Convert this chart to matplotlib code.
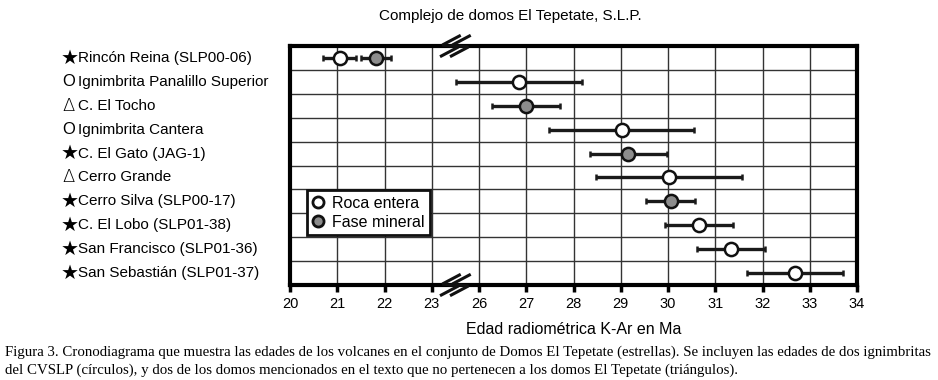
import numpy as np
import matplotlib
matplotlib.use("Agg")
import matplotlib.pyplot as plt
from matplotlib.lines import Line2D
from matplotlib.transforms import IdentityTransform

plt.rcParams['font.family'] = ['Liberation Sans', 'DejaVu Sans']

# datos (edad K-Ar en Ma)
nombres = ["Rincón Reina (SLP00-06)", "Ignimbrita Panalillo Superior", "C. El Tocho",
           "Ignimbrita Cantera", "C. El Gato (JAG-1)", "Cerro Grande",
           "Cerro Silva (SLP00-17)", "C. El Lobo (SLP01-38)", "San Francisco (SLP01-36)",
           "San Sebastián (SLP01-37)"]
simbolos = ["★", "O", "Δ", "O", "★", "Δ", "★", "★", "★", "★"]

# roca entera (fila, edad, error)
roca_fila = [0, 1, 3, 5, 7, 8, 9]
roca_edad = [21.05, 26.85, 29.02, 30.02, 30.66, 31.33, 32.69]
roca_err = [0.35, 1.33, 1.54, 1.54, 0.72, 0.72, 1.01]

# fase mineral
min_fila = [0, 2, 4, 6]
min_edad = [21.82, 27.0, 29.16, 30.06]
min_err = [0.32, 0.72, 0.82, 0.52]

ticks = [20, 21, 22, 23, 26, 27, 28, 29, 30, 31, 32, 33, 34]


def pos(v):
    # eje con corte entre 23 y 26
    v = np.asarray(v, dtype=float)
    return np.where(v <= 23, v - 20, v - 22)


fig = plt.figure(figsize=(9.38, 3.80), dpi=100)
ax = fig.add_axes([290/938, 1-285/380, 567/938, 239/380])

ax.set_xlim(0, 12)
ax.set_ylim(9.5, -0.5)

for k in range(1, 12):
    ax.axvline(k, color='#333333', lw=1, zorder=1)
for k in range(10):
    ax.axhline(k + 0.5, color='#333333', lw=1, zorder=1)

lo = pos(np.array(roca_edad) - np.array(roca_err))
hi = pos(np.array(roca_edad) + np.array(roca_err))
ax.errorbar(pos(roca_edad), roca_fila, xerr=[pos(roca_edad) - lo, hi - pos(roca_edad)],
            fmt='o', ms=9.5, mfc='white', mec='#111111', mew=1.8, ecolor='#1a1a1a',
            elinewidth=2.4, capsize=2.5, capthick=2.2, zorder=3)
lo = pos(np.array(min_edad) - np.array(min_err))
hi = pos(np.array(min_edad) + np.array(min_err))
ax.errorbar(pos(min_edad), min_fila, xerr=[pos(min_edad) - lo, hi - pos(min_edad)],
            fmt='o', ms=9.5, mfc='#8c8c8c', mec='#111111', mew=1.8, ecolor='#1a1a1a',
            elinewidth=2.4, capsize=2.5, capthick=2.2, zorder=3)

for s in ax.spines.values():
    s.set_linewidth(3)
ax.set_xticks(pos(ticks))
ax.set_xticklabels([str(t) for t in ticks], fontsize=10.5)
ax.tick_params(axis='x', direction='out', length=5, width=2.5, pad=4)
ax.set_yticks([])

# símbolo de corte (en píxeles alrededor del punto 23-26)
zig = np.array([(9, 10), (-8, 1), (8, -1), (-9, -10)], dtype=float)
for yv in [-0.5, 9.5]:
    cx, cy = ax.transData.transform((3.5, yv))
    for dx in (-5, 5):
        fig.add_artist(Line2D(cx + dx + zig[:, 0], cy + zig[:, 1], color='#111111',
                              lw=2.2, transform=IdentityTransform(), zorder=6,
                              solid_joinstyle='miter'))

# etiquetas
for i, (sim, nom) in enumerate(zip(simbolos, nombres)):
    if sim == '★':
        ax.text(-229/567 * 12, i, sim, fontsize=14.5, va='center', ha='left',
                family=['DejaVu Sans'])
    elif sim == 'Δ':
        ax.text(-228/567 * 12, i, sim, fontsize=13, va='center', ha='left',
                family=['DejaVu Sans'], fontweight='light')
    else:
        ax.text(-228/567 * 12, i, sim, fontsize=12, va='center', ha='left')
    ax.text(-212/567 * 12, i, nom, fontsize=11, va='center', ha='left')

proxies = [Line2D([], [], ls='none', marker='o', ms=8, mfc='white', mec='#111111', mew=2),
           Line2D([], [], ls='none', marker='o', ms=8, mfc='#8c8c8c', mec='#111111', mew=2)]
leg = ax.legend(proxies, ['Roca entera', 'Fase mineral'], loc='upper left',
                bbox_to_anchor=(17/567, 1 - 144/239), fontsize=11.5,
                frameon=True, fancybox=False, edgecolor='#111111', framealpha=1,
                handlelength=0.7, handletextpad=0.5, borderpad=0.35, labelspacing=0.25,
                borderaxespad=0)
leg.get_frame().set_linewidth(2)

fig.text(510/938, 1 - 16/380, "Complejo de domos El Tepetate, S.L.P.", fontsize=11,
         ha='center', va='center')
fig.text(574/938, 1 - 330/380, "Edad radiométrica K-Ar en Ma", fontsize=11.5,
         ha='center', va='center')

cap1 = ("Figura 3. Cronodiagrama que muestra las edades de los volcanes en el conjunto de Domos "
        "El Tepetate (estrellas). Se incluyen las edades de dos ignimbritas")
cap2 = ("del CVSLP (círculos), y dos de los domos mencionados en el texto que no pertenecen a "
        "los domos El Tepetate (triángulos).")
fig.text(5/938, 1 - 352/380, cap1, fontsize=10.7, family='Liberation Serif', va='center')
fig.text(5/938, 1 - 370/380, cap2, fontsize=10.7, family='Liberation Serif', va='center')

fig.savefig("out.png", dpi=100)
